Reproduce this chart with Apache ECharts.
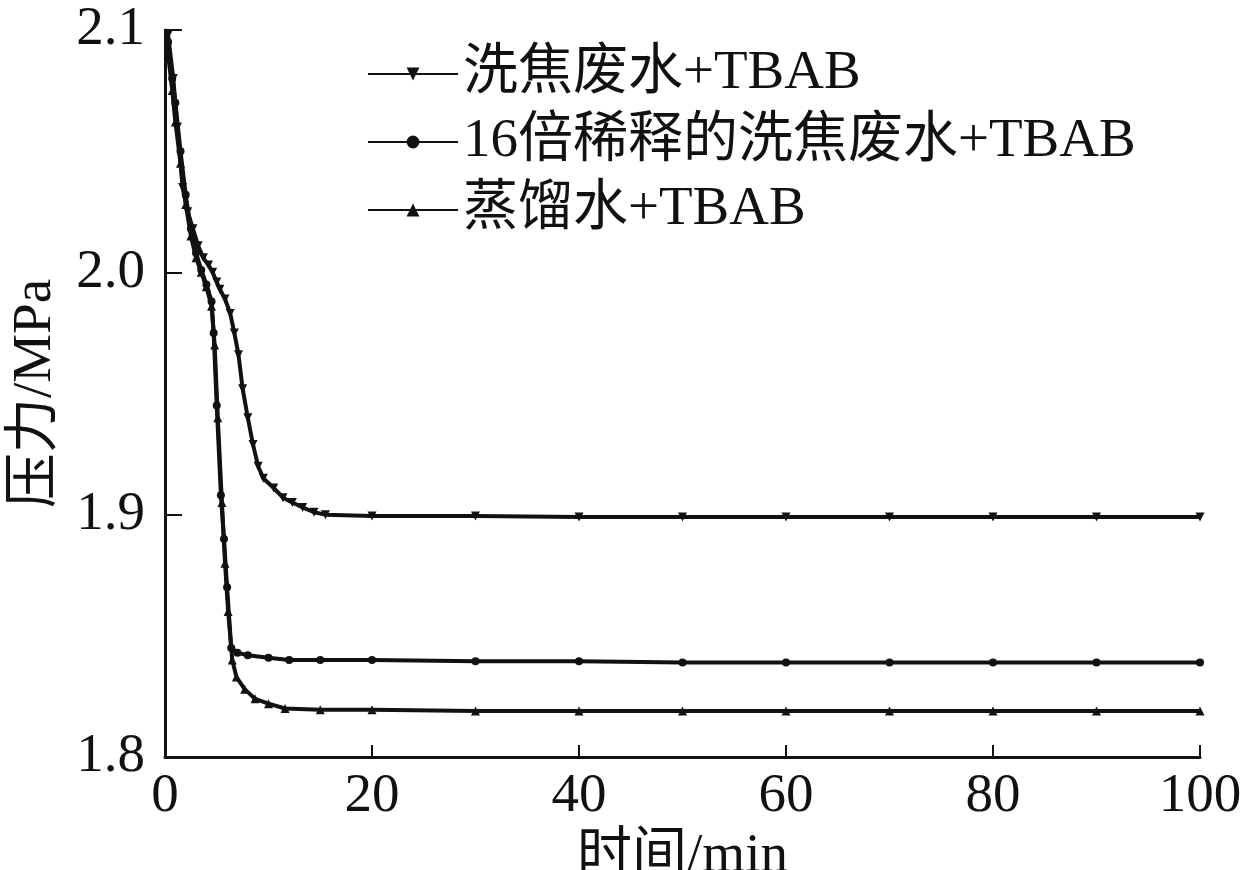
<!DOCTYPE html>
<html>
<head>
<meta charset="utf-8">
<script src="https://cdn.jsdelivr.net/npm/echarts@6/dist/echarts.min.js"></script>
<style>
  html, body { margin: 0; padding: 0; background: #fff; }
  #chart { width: 1247px; height: 870px; }
</style>
</head>
<body>
<div id="chart"></div>
<script>
// 压力随时间变化
const seriesNames = ['洗焦废水+TBAB', '16倍稀释的洗焦废水+TBAB', '蒸馏水+TBAB']

const timeWaste = [0.3, 0.8, 1.2, 1.7, 2.2, 2.7, 3.2, 3.7, 4.2, 4.6, 5.0, 5.3, 5.8, 6.3, 6.7, 7.1, 7.5, 8.0, 8.5, 9.0, 9.5, 10.5, 11.4, 12.3, 13.3, 14.4, 15.5, 20, 30, 40, 50, 60, 70, 80, 90, 100]
const pressWaste = [2.098, 2.080, 2.060, 2.035, 2.025, 2.018, 2.011, 2.006, 2.003, 2.000, 1.996, 1.993, 1.989, 1.983, 1.975, 1.966, 1.952, 1.940, 1.929, 1.920, 1.915, 1.911, 1.907, 1.905, 1.903, 1.901, 1.900, 1.8995, 1.8995, 1.899, 1.899, 1.899, 1.899, 1.899, 1.899, 1.899]

const timeDiluted = [0.3, 0.7, 1.0, 1.5, 2.0, 2.5, 3.0, 3.5, 4.0, 4.5, 4.7, 5.0, 5.4, 5.7, 6.0, 6.4, 7, 8, 10, 12, 15, 20, 30, 40, 50, 60, 70, 80, 90, 100]
const pressDiluted = [2.095, 2.080, 2.070, 2.050, 2.032, 2.018, 2.008, 2.001, 1.995, 1.988, 1.975, 1.945, 1.908, 1.890, 1.870, 1.845, 1.843, 1.842, 1.841, 1.840, 1.840, 1.840, 1.8395, 1.8395, 1.839, 1.839, 1.839, 1.839, 1.839, 1.839]

const timeDistilled = [0.3, 0.7, 1.0, 1.5, 2.0, 2.5, 3.0, 3.5, 4.0, 4.5, 4.8, 5.1, 5.5, 5.8, 6.1, 6.5, 6.9, 7.7, 8.7, 10, 11.6, 15, 20, 30, 40, 50, 60, 70, 80, 90, 100]
const pressDistilled = [2.090, 2.075, 2.062, 2.045, 2.028, 2.015, 2.006, 2.000, 1.994, 1.986, 1.970, 1.940, 1.905, 1.880, 1.860, 1.840, 1.833, 1.828, 1.824, 1.822, 1.820, 1.8195, 1.8195, 1.819, 1.819, 1.819, 1.819, 1.819, 1.819, 1.819, 1.819]

const xTicks = [0, 20, 40, 60, 80, 100]
const yTicks = [1.8, 1.9, 2.0, 2.1]

const font = "'Liberation Serif', 'Noto Sans CJK SC', serif"
const ink = '#111'
const fs = 55

function pairs(t, p) {
  return t.map((x, i) => [x, p[i]])
}

const chart = echarts.init(document.getElementById('chart'))

function makeSeries(name, data, symbol, rotate, size) {
  return {
    name: name,
    type: 'line',
    data: data,
    symbol: symbol,
    symbolSize: size,
    symbolRotate: rotate,
    showSymbol: true,
    lineStyle: { color: ink, width: 4 },
    itemStyle: { color: ink },
    animation: false
  }
}

const option = {
  backgroundColor: '#fff',
  grid: { left: 165, right: 47, top: 30, bottom: 113, containLabel: false, outerBoundsMode: 'none' },
  legend: {
    orient: 'vertical',
    left: 362,
    top: 41,
    itemGap: 12,
    itemWidth: 90,
    itemHeight: 16,
    textStyle: { fontFamily: font, fontSize: fs, lineHeight: 56, color: ink, padding: [0, 0, 0, 0] },
    data: seriesNames
  },
  xAxis: {
    type: 'value',
    min: 0,
    max: 100,
    interval: 20,
    name: '时间/min',
    nameLocation: 'middle',
    nameGap: 62,
    nameTextStyle: { fontFamily: font, fontSize: fs, color: ink },
    axisLine: { show: true, lineStyle: { color: ink, width: 3 } },
    axisTick: { show: true, inside: true, length: 12, lineStyle: { color: ink, width: 2 } },
    axisLabel: {
      fontFamily: font, fontSize: fs, color: ink, margin: 12,
      formatter: v => xTicks.includes(v) ? String(v) : ''
    },
    splitLine: { show: false }
  },
  yAxis: {
    type: 'value',
    min: 1.8,
    max: 2.1,
    interval: 0.1,
    name: '压力/MPa',
    nameLocation: 'middle',
    nameGap: 102,
    nameRotate: 90,
    nameTextStyle: { fontFamily: font, fontSize: fs, color: ink },
    axisLine: { show: true, lineStyle: { color: ink, width: 3 } },
    axisTick: { show: true, inside: true, length: 17, lineStyle: { color: ink, width: 2 } },
    axisLabel: {
      fontFamily: font, fontSize: fs, color: ink, margin: 20,
      formatter: v => {
        const t = yTicks.find(k => Math.abs(k - v) < 1e-6)
        return t === undefined ? '' : t.toFixed(1)
      }
    },
    splitLine: { show: false }
  },
  series: [
    makeSeries(seriesNames[0], pairs(timeWaste, pressWaste), 'triangle', 180, 9),
    makeSeries(seriesNames[1], pairs(timeDiluted, pressDiluted), 'circle', 0, 8),
    makeSeries(seriesNames[2], pairs(timeDistilled, pressDistilled), 'triangle', 0, 9)
  ]
}

chart.setOption(option)
</script>
</body>
</html>
